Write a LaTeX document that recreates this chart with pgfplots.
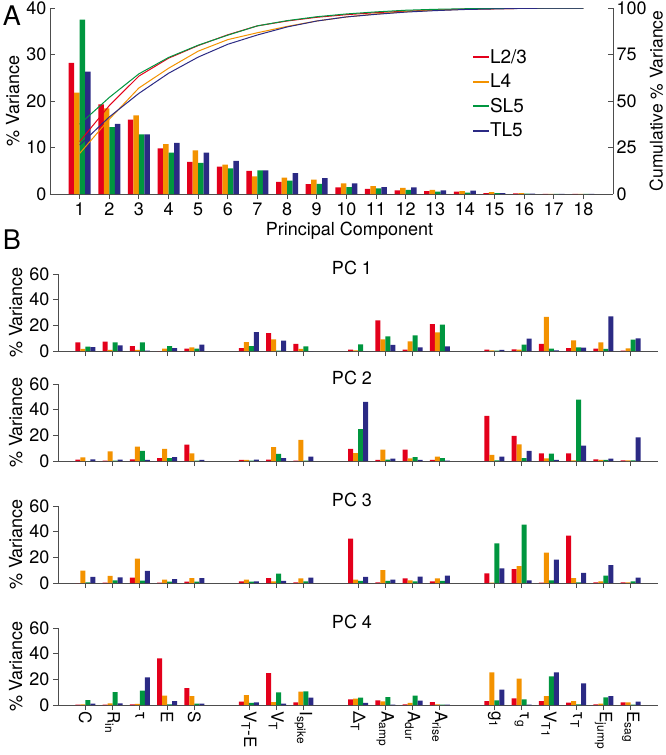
\documentclass[border=0pt]{standalone}
\usepackage{fontspec}
\setmainfont{TeX Gyre Heros}
\usepackage{pgfplots}
\usepackage{pgfplotstable}
\pgfplotsset{compat=1.18}
\definecolor{cR}{HTML}{E3001B}
\definecolor{cO}{HTML}{F39200}
\definecolor{cG}{HTML}{00963F}
\definecolor{cB}{HTML}{2B2A84}
\definecolor{axg}{HTML}{4D4D4D}

\pgfplotstableread{
x  r    o    g    b    cr   co    cg    cb
1  28.2 21.8 37.5 26.3 28.2 21.8  37.5  26.3
2  19.3 18.4 14.4 15.1 47.5 40.2  51.9  41.4
3  16.0 16.9 12.8 12.8 63.4 57.0  64.6  54.1
4  9.8  10.7 8.9  11.0 73.0 67.6  73.4  64.9
5  6.9  9.4  6.7  8.9  79.8 76.8  80.0  73.6
6  5.9  6.3  5.5  7.1  85.6 83.0  85.4  80.5
7  5.0  3.8  5.1  5.1  90.4 86.7  90.4  85.5
8  2.6  3.5  2.9  4.5  93.0 90.1  93.2  89.8
9  2.1  3.1  2.2  3.4  95.0 93.0  95.3  93.0
10 1.4  2.3  1.5  2.3  96.4 95.2  96.8  95.2
11 1.1  1.7  1.2  1.5  97.5 96.8  97.9  96.6
12 0.8  1.3  0.9  1.4  98.3 98.0  98.8  97.8
13 0.6  0.9  0.5  0.8  98.9 98.8  99.3  98.6
14 0.5  0.6  0.3  0.7  99.4 99.3  99.6  99.2
15 0.2  0.4  0.2  0.2  99.6 99.6  99.8  99.5
16 0.15 0.2  0.1  0.1  99.8 99.8  99.9  99.8
17 0.05 0.05 0.05 0.05 99.9 99.95 99.95 99.95
18 0.02 0.02 0.02 0.02 100  100   100   100
}\tA

\pgfplotstableread{
x  r    o    g    b
0  6.8  1.6  3.4  3.1
1  7.3  0.8  6.8  4.4
2  3.9  0.8  6.8  0.2
3  0.0  1.8  3.9  2.3
4  1.8  2.9  1.8  4.9
6  2.3  7.0  3.9  14.8
7  14.0 9.1  0.2  8.0
8  5.5  1.6  3.6  0.0
10 1.0  0.5  5.2  0.0
11 23.9 9.1  11.4 4.7
12 1.0  7.5  12.2 2.9
13 21.0 14.5 20.5 3.6
15 1.0  0.5  0.3  0.8
16 1.3  1.0  4.9  9.6
17 5.5  26.5 1.8  0.5
18 2.3  8.3  2.9  2.6
19 1.8  6.8  1.6  27.0
20 0.3  2.1  8.8  9.9
}\tPa

\pgfplotstableread{
x  r    o    g    b
0  1.0  2.9  0.0  1.3
1  0.3  7.5  0.3  1.0
2  1.3  11.2 7.8  0.8
3  2.3  9.4  2.3  3.1
4  12.7 6.0  0.3  0.8
6  0.8  0.8  0.3  1.0
7  1.0  10.9 5.5  2.3
8  0.3  16.4 0.3  3.4
10 9.4  6.2  24.9 46.0
11 0.8  8.8  1.0  1.8
12 8.8  2.1  3.1  0.8
13 0.8  3.4  2.3  0.3
15 35.1 4.7  0.5  3.4
16 19.5 13.0 2.3  7.8
17 6.0  2.1  5.7  0.8
18 6.0  0.5  47.8 11.9
19 1.3  0.8  0.8  1.8
20 0.5  0.5  0.5  18.4
}\tPb

\pgfplotstableread{
x  r    o    g    b
0  0.0  9.6  0.5  4.7
1  0.3  5.5  2.1  4.4
2  4.2  19.0 1.8  9.4
3  0.3  2.6  1.0  3.1
4  1.0  3.9  1.0  3.9
6  1.3  2.6  1.0  1.3
7  3.9  1.3  7.3  1.6
8  0.5  3.6  1.3  4.2
10 34.5 2.6  1.6  4.7
11 0.5  10.1 1.6  2.6
12 3.6  2.1  1.3  4.9
13 1.3  3.6  1.6  5.7
15 7.5  0.3  30.9 11.4
16 10.9 13.2 45.5 2.1
17 0.3  23.6 2.1  18.2
18 36.9 3.9  0.5  7.8
19 0.5  1.3  5.7  14.0
20 0.5  0.5  1.3  4.2
}\tPc

\pgfplotstableread{
x  r    o    g    b
0  0.3  0.5  3.9  1.0
1  0.3  1.3  10.1 1.3
2  0.5  0.8  11.2 21.6
3  36.4 7.3  0.5  3.1
4  13.2 7.0  1.0  1.0
6  2.6  7.8  1.6  2.1
7  24.9 2.3  9.9  1.0
8  2.1  10.4 10.6 5.7
10 4.4  4.9  5.7  1.6
11 3.6  2.9  6.2  0.3
12 0.5  1.6  7.3  3.4
13 2.3  0.5  0.3  0.3
15 3.1  25.5 3.6  11.9
16 5.2  20.5 4.4  0.3
17 3.1  7.0  22.3 25.5
18 1.8  3.1  0.5  16.9
19 0.5  1.0  6.0  7.0
20 2.1  2.1  0.3  2.6
}\tPd

\newcommand{\fourbars}[1]{%
  \addplot[draw=none,fill=cR] table[x=x,y=r]{#1};
  \addplot[draw=none,fill=cO] table[x=x,y=o]{#1};
  \addplot[draw=none,fill=cG] table[x=x,y=g]{#1};
  \addplot[draw=none,fill=cB] table[x=x,y=b]{#1};}

\pgfplotsset{
  /pgf/number format/assume math mode=true,
  common/.style={
    scale only axis, anchor=south west,
    axis line style={-,draw=axg,line width=0.8pt},
    tick style={draw=axg,line width=0.8pt},
    major tick length=5pt,
  },
  pcb/.style={
    common, width=600pt, height=77pt,
    xmin=-1, xmax=21, ymin=0, ymax=60, ytick={0,20,40,60},
    xtick={0,1,2,3,4,6,7,8,10,11,12,13,15,16,17,18,19,20},
    xticklabels={},
    axis x line*=bottom, axis y line*=left, tick align=outside,
    ybar=0pt, bar width=5pt,
    ylabel={\% Variance},
    title style={at={(0.49,1)},anchor=center},
  },
}

\begin{document}
\begin{tikzpicture}[font=\fontsize{18pt}{21pt}\selectfont]
\path[use as bounding box] (0,0) rectangle (666pt,-755pt);
\node[font=\fontsize{27pt}{30pt}\selectfont] at (12pt,-16pt) {A};
\node[font=\fontsize{27pt}{30pt}\selectfont] at (12pt,-240pt) {B};

% Panel A bars
\begin{axis}[common, at={(50pt,-194pt)}, width=563pt, height=186pt,
  xmin=0, xmax=19, ymin=0, ymax=40,
  xtick={1,...,18}, ytick={0,10,...,40},
  axis x line*=bottom, axis y line*=left, tick align=inside,
  ybar=0pt, bar width=5.5pt,
  xlabel={Principal Component}, xlabel style={xshift=18pt},
  ylabel={\% Variance}]
  \fourbars{\tA}
\end{axis}

% Panel A cumulative
\begin{axis}[common, at={(50pt,-194pt)}, width=563pt, height=186pt,
  xmin=0, xmax=19, ymin=0, ymax=100,
  ytick={0,25,...,100},
  axis x line=none, axis y line*=right, tick align=inside,
  ylabel={Cumulative \% Variance},
  ylabel style={at={(rel axis cs:1.077,0.5)},anchor=center,font=\fontsize{17.5pt}{20pt}\selectfont},
  legend style={at={(0.745,0.80)},anchor=north west,draw=none,fill=none,
    row sep=5pt, font=\fontsize{19pt}{21pt}\selectfont},
  legend cell align=left]
  \addplot[draw=cR,line width=1pt,forget plot] table[x=x,y=cr]{\tA};
  \addplot[draw=cO,line width=1pt,forget plot] table[x=x,y=co]{\tA};
  \addplot[draw=cG,line width=1pt,forget plot] table[x=x,y=cg]{\tA};
  \addplot[draw=cB,line width=1pt,forget plot] table[x=x,y=cb]{\tA};
  \addlegendimage{legend image code/.code={\fill[cR] (0pt,-0.5pt) rectangle (15pt,0.5pt);}}\addlegendentry{L2/3}
  \addlegendimage{legend image code/.code={\fill[cO] (0pt,-0.5pt) rectangle (15pt,0.5pt);}}\addlegendentry{L4}
  \addlegendimage{legend image code/.code={\fill[cG] (0pt,-0.5pt) rectangle (15pt,0.5pt);}}\addlegendentry{SL5}
  \addlegendimage{legend image code/.code={\fill[cB] (0pt,-0.5pt) rectangle (15pt,0.5pt);}}\addlegendentry{TL5}
\end{axis}

\begin{axis}[pcb, at={(58pt,-351pt)}, title={PC 1}]
  \fourbars{\tPa}
\end{axis}
\begin{axis}[pcb, at={(58pt,-461pt)}, title={PC 2}]
  \fourbars{\tPb}
\end{axis}
\begin{axis}[pcb, at={(58pt,-583pt)}, title={PC 3}]
  \fourbars{\tPc}
\end{axis}
\begin{axis}[pcb, at={(58pt,-705pt)}, title={PC 4},
  xticklabels={C,R\textsubscript{in},τ,E,S,V\textsubscript{T}-E,V\textsubscript{T},I\textsubscript{spike},Δ\textsubscript{T},A\textsubscript{amp},A\textsubscript{dur},A\textsubscript{rise},g\textsubscript{1},τ\textsubscript{g},V\textsubscript{T1},τ\textsubscript{T},E\textsubscript{jump},E\textsubscript{sag}},
  x tick label style={rotate=-90,anchor=west,font=\fontsize{17pt}{20pt}\selectfont,xshift=-2pt}]
  \fourbars{\tPd}
\end{axis}
\end{tikzpicture}
\end{document}
